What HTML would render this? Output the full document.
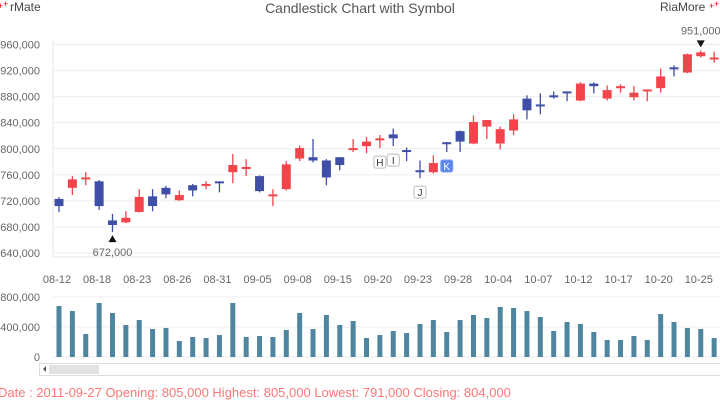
<!DOCTYPE html>
<html><head><meta charset="utf-8">
<style>
body{margin:0;width:720px;height:400px;overflow:hidden;background:#fff;font-family:"Liberation Sans",sans-serif;}
svg text{font-family:"Liberation Sans",sans-serif;}
</style></head>
<body>
<svg id="chart" width="720" height="400" xmlns="http://www.w3.org/2000/svg"></svg>
<script>
const dates=["08-12","08-15","08-17","08-18","08-19","08-22","08-23","08-24","08-25","08-26","08-29","08-30","08-31","09-01","09-02","09-05","09-06","09-07","09-08","09-09","09-14","09-15","09-16","09-19","09-20","09-21","09-22","09-23","09-26","09-27","09-28","09-29","09-30","10-04","10-05","10-06","10-07","10-10","10-11","10-12","10-13","10-14","10-17","10-18","10-19","10-20","10-21","10-24","10-25","10-26"];
const opens=[723,740,753,750,690,687,703,727,740,721,744,743,750,764,769,758,727,738,785,787,782,787,798,804,813,822,798,767,764,810,827,808,834,808,828,877,868,882,888,874,900,877,894,879,890,893,925,917,942,937];
const highs=[726,758,764,752,700,704,738,738,743,736,746,750,750,792,784,759,738,781,805,815,784,787,815,818,821,831,802,782,790,810,828,851,844,834,853,882,885,888,888,902,902,897,899,896,891,923,928,946,951,949];
const lows=[703,729,744,706,672,686,702,704,724,720,727,738,733,747,758,733,712,736,781,779,744,767,795,793,801,804,781,755,762,795,795,807,815,799,821,845,853,877,873,873,885,874,886,874,873,886,911,916,940,932];
const closes=[712,753,756,712,683,694,726,712,730,729,736,746,747,775,772,735,730,776,801,782,756,775,801,811,816,816,795,764,778,808,811,841,844,830,845,859,865,880,886,900,896,890,896,886,891,911,923,945,948,940];
const volumes=[680,613,307,720,587,427,493,373,387,213,267,253,293,720,267,280,267,360,587,373,560,427,480,253,293,347,320,440,493,333,493,560,520,667,653,613,533,347,467,440,333,227,227,280,227,573,467,387,373,253];
const priceTicks=[640,680,720,760,800,840,880,920,960];
const volTicks=[0,400,800];
const symbols=[{i:24,t:"H",above:false},{i:25,t:"I",above:false},{i:27,t:"J",above:false},{i:29,t:"K",above:false,fill:true}];

const NS="http://www.w3.org/2000/svg";
const svg=document.getElementById('chart');
function mk(tag,attrs,parent){const e=document.createElementNS(NS,tag);for(const k in attrs)e.setAttribute(k,attrs[k]);(parent||svg).appendChild(e);return e;}
const fmt=v=>(v*1000).toLocaleString('en-US');
const xOf=i=>59+i*13.37;
const yP=v=>44.5+(960-v)*(253-44.5)/320;
const yV=v=>357-v*60/800;

// title & logos
let t=mk('text',{x:360,y:13,'text-anchor':'middle','font-size':14,fill:'#555'});t.textContent="Candlestick Chart with Symbol";

t=mk('text',{x:10,y:11,'font-size':12,fill:'#444'});t.textContent="rMate";

t=mk('text',{x:-2,y:9,'font-size':9,fill:'#e00'});t.textContent="+";
t=mk('text',{x:3,y:7,'font-size':9,fill:'#e00'});t.textContent="+";
t=mk('text',{x:660,y:11,'font-size':12,fill:'#444'});t.textContent="RiaMore";

t=mk('text',{x:709,y:9,'font-size':9,fill:'#e00'});t.textContent="+";
t=mk('text',{x:714,y:7,'font-size':9,fill:'#e00'});t.textContent="+";

// price grid
priceTicks.forEach(v=>{
  const y=yP(v);
  const l=mk('line',{x1:53,x2:720,y1:y,y2:y,stroke:'#ececec'});
  
  const tx=mk('text',{x:40,y:y+4,'text-anchor':'end','font-size':11,fill:'#666'});tx.textContent=fmt(v);
  
});
mk('line',{x1:53,x2:53,y1:40,y2:257,stroke:'#e6e6e6'});
mk('line',{x1:53,x2:720,y1:257,y2:257,stroke:'#e6e6e6'});

// candles
dates.forEach((d,i)=>{
  const o=opens[i],c=closes[i],h=highs[i],lo=lows[i];
  const col=c>=o?'#f2444b':'#3f4ea6';
  const x=xOf(i);
  const g=mk('g',{});
  
  mk('line',{x1:x,x2:x,y1:yP(h),y2:yP(lo),stroke:col,'stroke-width':1.3},g);
  const top=yP(Math.max(o,c)),bot=yP(Math.min(o,c));
  mk('rect',{x:x-4.5,y:top,width:9,height:Math.max(2,bot-top),fill:col},g);
  if(i%3===0){
    const tx=mk('text',{x:x-2,y:283,'text-anchor':'middle','font-size':11,fill:'#666'});tx.textContent=d;
    
  }
});

// min / max markers
let minI=0,maxI=0;lows.forEach((v,i)=>{if(v<lows[minI])minI=i;});highs.forEach((v,i)=>{if(v>highs[maxI])maxI=i;});
let mx=xOf(minI),my=yP(lows[minI]);
mk('path',{d:`M${mx-4} ${my+10}L${mx+4} ${my+10}L${mx} ${my+3}Z`,fill:'#111'});
t=mk('text',{x:mx,y:my+24,'text-anchor':'middle','font-size':11,fill:'#666'});t.textContent=fmt(lows[minI]);

mx=xOf(maxI);my=yP(highs[maxI]);
mk('path',{d:`M${mx-4} ${my-10}L${mx+4} ${my-10}L${mx} ${my-3}Z`,fill:'#111'});
t=mk('text',{x:mx,y:my-16,'text-anchor':'middle','font-size':11,fill:'#666'});t.textContent=fmt(highs[maxI]);


// symbols
symbols.forEach(s=>{
  const x=xOf(s.i),y=yP(lows[s.i])+8;
  const g=mk('g',{});
  
  mk('rect',{x:x-6,y:y,width:12,height:12,rx:2,fill:s.fill?'#5c87f0':'#fff',stroke:s.fill?'#7a9ef5':'#bbb'},g);
  const tx=mk('text',{x:x,y:y+10,'text-anchor':'middle','font-size':10,fill:s.fill?'#fff':'#333'},g);tx.textContent=s.t;
});

// volume
volTicks.forEach(v=>{
  const y=yV(v);
  const l=mk('line',{x1:53,x2:720,y1:y,y2:y,stroke:'#ececec'});
  
  const tx=mk('text',{x:40,y:y+4,'text-anchor':'end','font-size':11,fill:'#666'});tx.textContent=fmt(v);
  
});
volumes.forEach((v,i)=>{
  const r=mk('rect',{x:xOf(i)-2.5,y:yV(v),width:5,height:yV(0)-yV(v),fill:'#4e86a0'});
  
});
</script>
<div style="position:absolute;left:39px;top:363px;width:690px;height:11px;border:1px solid #ddd;background:#fff;">
  <div style="position:absolute;left:3px;top:2px;width:0;height:0;border-top:3px solid transparent;border-bottom:3px solid transparent;border-right:3px solid #555;"></div>
  <div style="position:absolute;left:9px;top:1px;width:50px;height:9px;background:#e2e2e2;"></div>
</div>
<div style="position:absolute;left:-2px;top:385px;font-size:13px;color:#f77;white-space:nowrap;">Date : 2011-09-27 Opening: 805,000 Highest: 805,000 Lowest: 791,000 Closing: 804,000</div>
</body></html>
